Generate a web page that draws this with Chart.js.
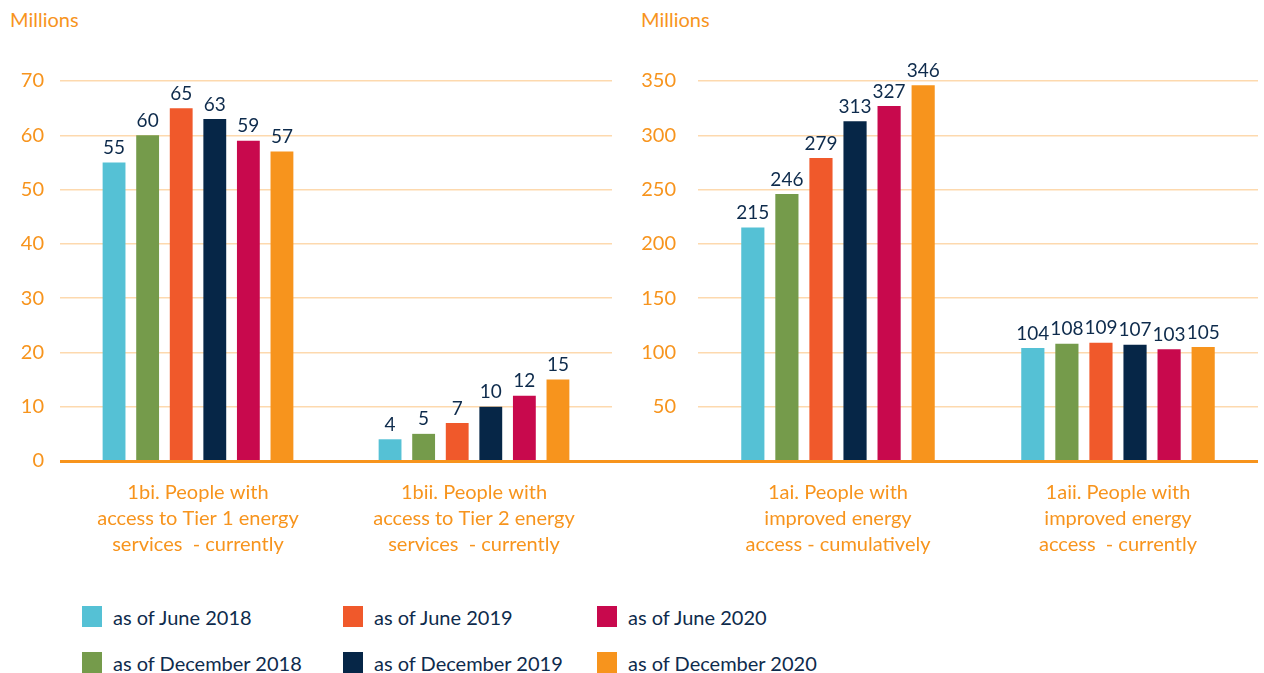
<!DOCTYPE html>
<html>
<head>
<meta charset="utf-8">
<script src="https://cdn.jsdelivr.net/npm/chart.js@4"></script>
<style>
    body { margin: 0; background: #fff; font-family: Lato, sans-serif; }
    #wrap { position: relative; width: 1264px; height: 673px; overflow: hidden; }
    .unit { position: absolute; top: 7px; color: #F7941D; font-size: 20px; }
    canvas { position: absolute; top: 0; }
    .leg { position: absolute; font-size: 20px; color: #0E2B4C; line-height: 22px; }
    .leg i { position: absolute; left: -31px; top: 0; width: 20px; height: 21px; }
</style>
</head>
<body>
<div id="wrap">
    <div class="unit" style="left:10px">Millions</div>
    <div class="unit" style="left:641px">Millions</div>
    <canvas id="chartLeft" width="618" height="580" style="left:0"></canvas>
    <canvas id="chartRight" width="664" height="580" style="left:600px"></canvas>
    <div id="legend"></div>
</div>
<script>
/* -------------------- DADOS -------------------- */
const categoriasEsq = [
    ["1bi. People with", "access to Tier 1 energy", "services  - currently"],
    ["1bii. People with", "access to Tier 2 energy", "services  - currently"]
];
const categoriasDir = [
    ["1ai. People with", "improved energy", "access - cumulatively"],
    ["1aii. People with", "improved energy", "access  - currently"]
];
const series = ["as of June 2018", "as of December 2018", "as of June 2019",
                "as of December 2019", "as of June 2020", "as of December 2020"];
const cores = ["#55C1D5", "#759B4B", "#F0592B", "#062647", "#C8094D", "#F7941D"];

// valores: [1bi, 1bii, 1ai, 1aii]
const jun2018 = [55, 4, 215, 104];
const dez2018 = [60, 5, 246, 108];
const jun2019 = [65, 7, 279, 109];
const dez2019 = [63, 10, 313, 107];
const jun2020 = [59, 12, 327, 103];
const dez2020 = [57, 15, 346, 105];
const valores = [jun2018, dez2018, jun2019, dez2019, jun2020, dez2020];

const ticksEsq = { min: 0, max: 70, step: 10 };
const ticksDir = { min: 0, max: 350, step: 50 };

/* -------------------- PLUGINS -------------------- */
const rotulos = {
    id: "rotulos",
    afterDatasetsDraw(chart) {
        const ctx = chart.ctx;
        ctx.save();
        ctx.font = "19px Lato";
        ctx.fillStyle = "#0E2B4C";
        ctx.textAlign = "center";
        ctx.textBaseline = "bottom";
        chart.data.datasets.forEach((ds, i) => {
            chart.getDatasetMeta(i).data.forEach((bar, j) => {
                ctx.fillText(ds.data[j], bar.x, bar.y - 5);
            });
        });
        ctx.restore();
    }
};

const linhaBase = {
    id: "linhaBase",
    afterDraw(chart, args, opts) {
        const ctx = chart.ctx;
        const y = Math.round(chart.scales.y.getPixelForValue(0)) + 0.5;
        ctx.save();
        ctx.strokeStyle = "#F7941D";
        ctx.lineWidth = 3;
        ctx.beginPath();
        ctx.moveTo(opts.from != null ? opts.from : chart.chartArea.left, y);
        ctx.lineTo(opts.to != null ? opts.to : chart.chartArea.right, y);
        ctx.stroke();
        ctx.restore();
    }
};

/* -------------------- GRAFICOS -------------------- */
function montarGrafico(id, labels, fatia, escala, larguraY, padY, esconderZero, base) {
    new Chart(document.getElementById(id), {
        type: "bar",
        data: {
            labels,
            datasets: series.map((s, i) => ({
                label: s,
                data: valores[i].slice(fatia[0], fatia[1]),
                backgroundColor: cores[i],
                barPercentage: 0.68,
                categoryPercentage: 0.73
            }))
        },
        options: {
            responsive: false,
            animation: false,
            events: [],
            layout: { padding: { top: 81, right: 6, left: 0, bottom: 0 } },
            plugins: { legend: { display: false }, tooltip: { enabled: false }, linhaBase: base },
            scales: {
                x: {
                    grid: { display: false, drawTicks: false },
                    border: { display: false },
                    ticks: { color: "#F7941D", font: { family: "Lato", size: 20, lineHeight: 1.32 }, padding: 18, maxRotation: 0 },
                    afterFit: s => { s.height = 119; }
                },
                y: {
                    min: escala.min, max: escala.max,
                    grid: { color: "#FDD9AE", lineWidth: 1.5, drawTicks: false },
                    border: { display: false },
                    ticks: {
                        stepSize: escala.step,
                        color: "#F7941D",
                        font: { family: "Lato", size: 20 },
                        padding: padY,
                        callback: v => (esconderZero && v === 0) ? "" : v
                    },
                    afterFit: s => { s.width = larguraY; }
                }
            }
        },
        plugins: [rotulos, linhaBase]
    });
}

function montarLegenda() {
    const xs = [113, 374, 628];
    const ys = [606, 652];
    document.getElementById("legend").innerHTML = series.map((s, i) => {
        const col = Math.floor(i / 2), lin = i % 2;
        return `<div class="leg" style="left:${xs[col]}px;top:${ys[lin]}px"><i style="background:${cores[i]}"></i>${s}</div>`;
    }).join("");
}

montarGrafico("chartLeft", categoriasEsq, [0, 2], ticksEsq, 60, 16, false, {});
montarGrafico("chartRight", categoriasDir, [2, 4], ticksDir, 98, 22, true, { from: 0 });
montarLegenda();
</script>
</body>
</html>
